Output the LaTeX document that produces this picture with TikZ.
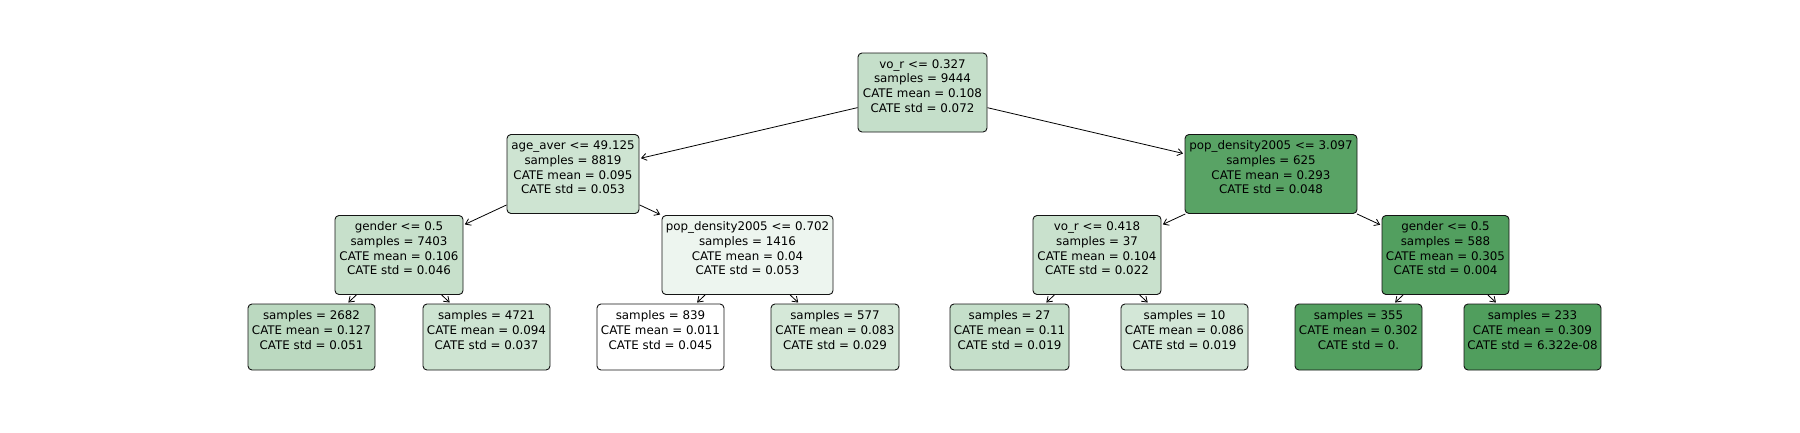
\documentclass[tikz,border=0pt]{standalone}
\usepackage{fontspec}
\setmainfont{DejaVu Sans}
\usetikzlibrary{arrows.meta}
\definecolor{tg}{RGB}{80,158,93}
\definecolor{bd}{RGB}{20,20,20}
\newcommand{\lastline}{\mbox{}}
\tikzset{
  tbox/.style={draw=bd, line width=0.9pt, rounded corners=4pt, align=center,
    inner xsep=1pt, inner ysep=1pt, minimum height=79pt,
    font=\fontsize{11.86pt}{14.8pt}\selectfont},
  leaf/.style={tbox, minimum height=66pt},
  edge/.style={draw=black, line width=0.8pt, -{Straight Barb[length=5pt,width=7pt,line width=0.8pt]}, shorten >=1.5pt}
}
\begin{document}
\begin{tikzpicture}[x=1pt,y=-1pt]
\useasboundingbox (0,0) rectangle (1800,432);
\fill[white] (0,0) rectangle (1800,432);
% level 0
\node[tbox, minimum width=129pt, fill=tg!33!white] (n0) at (922.5,92.5)
  {\strut vo\_r <= 0.327\\samples = 9444\\CATE mean = 0.108\\CATE std = 0.072\\\lastline};
% level 1
\node[tbox, minimum width=132pt, fill=tg!28!white] (n1) at (573,174)
  {\strut age\_aver <= 49.125\\samples = 8819\\CATE mean = 0.095\\CATE std = 0.053\\\lastline};
\node[tbox, minimum width=172pt, fill=tg!95!white] (n2) at (1271,174)
  {\strut pop\_density2005 <= 3.097\\samples = 625\\CATE mean = 0.293\\CATE std = 0.048\\\lastline};
% level 2
\node[tbox, minimum width=128pt, fill=tg!32!white] (n3) at (399,255)
  {\strut gender <= 0.5\\samples = 7403\\CATE mean = 0.106\\CATE std = 0.046\\\lastline};
\node[tbox, minimum width=171pt, fill=tg!10!white] (n4) at (747.5,255)
  {\strut pop\_density2005 <= 0.702\\samples = 1416\\CATE mean = 0.04\\CATE std = 0.053\\\lastline};
\node[tbox, minimum width=128pt, fill=tg!31!white] (n5) at (1097,255)
  {\strut vo\_r <= 0.418\\samples = 37\\CATE mean = 0.104\\CATE std = 0.022\\\lastline};
\node[tbox, minimum width=127pt, fill=tg!99!white] (n6) at (1445.5,255)
  {\strut gender <= 0.5\\samples = 588\\CATE mean = 0.305\\CATE std = 0.004\\\lastline};
% level 3
\node[leaf, minimum width=127pt, fill=tg!39!white] (l1) at (311.5,337)
  {\strut samples = 2682\\CATE mean = 0.127\\CATE std = 0.051\\\lastline};
\node[leaf, minimum width=127pt, fill=tg!28!white] (l2) at (486.5,337)
  {\strut samples = 4721\\CATE mean = 0.094\\CATE std = 0.037\\\lastline};
\node[leaf, minimum width=127pt, fill=white] (l3) at (660.5,337)
  {\strut samples = 839\\CATE mean = 0.011\\CATE std = 0.045\\\lastline};
\node[leaf, minimum width=128pt, fill=tg!24!white] (l4) at (835,337)
  {\strut samples = 577\\CATE mean = 0.083\\CATE std = 0.029\\\lastline};
\node[leaf, minimum width=119pt, fill=tg!33!white] (l5) at (1009.5,337)
  {\strut samples = 27\\CATE mean = 0.11\\CATE std = 0.019\\\lastline};
\node[leaf, minimum width=127pt, fill=tg!25!white] (l6) at (1184.5,337)
  {\strut samples = 10\\CATE mean = 0.086\\CATE std = 0.019\\\lastline};
\node[leaf, minimum width=127pt, fill=tg!98!white] (l7) at (1358.5,337)
  {\strut samples = 355\\CATE mean = 0.302\\CATE std = 0.\\\lastline};
\node[leaf, minimum width=137pt, fill=tg] (l8) at (1532.5,337)
  {\strut samples = 233\\CATE mean = 0.309\\CATE std = 6.322e-08\\\lastline};
% edges
\draw[edge] (n0) -- (n1);
\draw[edge] (n0) -- (n2);
\draw[edge] (n1) -- (n3);
\draw[edge] (n1) -- (n4);
\draw[edge] (n2) -- (n5);
\draw[edge] (n2) -- (n6);
\draw[edge] (n3) -- (l1);
\draw[edge] (n3) -- (l2);
\draw[edge] (n4) -- (l3);
\draw[edge] (n4) -- (l4);
\draw[edge] (n5) -- (l5);
\draw[edge] (n5) -- (l6);
\draw[edge] (n6) -- (l7);
\draw[edge] (n6) -- (l8);
\end{tikzpicture}
\end{document}
